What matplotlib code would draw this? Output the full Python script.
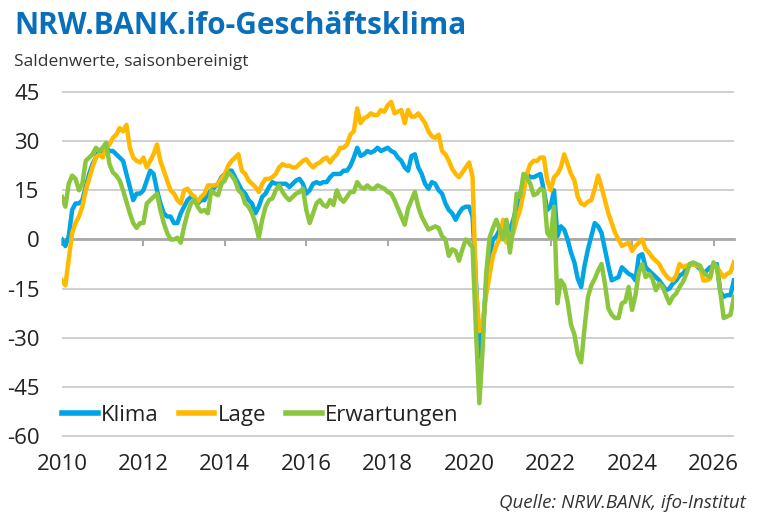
import matplotlib.pyplot as plt
import numpy as np

plt.rcParams['font.family'] = ['Open Sans', 'DejaVu Sans']

# Monatswerte Jan 2010 - Jul 2026
klima = [
    0, -2, 1, 9, 11, 11, 12, 16, 20, 23, 25, 27,                    # 2010
    27, 28, 27, 27, 26, 25, 24, 20, 16, 12, 14, 14,                 # 2011
    15, 18, 21, 20, 15, 11, 8, 7, 7, 5, 5, 8,                       # 2012
    10, 12, 13, 13, 11, 12, 12, 14, 15, 16, 17, 19,                 # 2013
    20, 21, 21, 19, 17, 15, 14, 12, 11, 8, 10, 13,                  # 2014
    14, 16, 17.5, 17, 17, 17, 17, 16, 17, 18, 18.5, 17,             # 2015
    14, 15, 17, 17.5, 17, 17.5, 17.5, 19, 20, 20, 20, 21,           # 2016
    21, 22.5, 25, 28, 25.5, 26, 27, 26.5, 27, 28, 27, 27.5,         # 2017
    28, 27, 26.5, 25, 24, 22, 21, 25.5, 26, 22, 20, 17,             # 2018
    15.5, 17.5, 17, 15, 14, 11, 9, 8, 6, 8, 9.5, 10,                # 2019
    10, 7, -12.5, -36, -28, -13.5, -5.5, 0, 1, 3, 2, 2,             # 2020
    3, 6, 10, 14, 17, 20, 19, 19, 19.5, 20, 15, 9,                  # 2021
    10, 15, 1, 4, 3, 0, -4, -7, -12, -14.5, -8, -3,                 # 2022
    1, 5, 4, 2, -3, -8, -12.5, -12, -11.5, -8.5, -9.5, -10.5,       # 2023
    -11, -12.5, -5, -4.5, -8.5, -9.5, -10.5, -11.5, -12.5, -14, -15.5, -15,  # 2024
    -13.5, -12.5, -11, -10.5, -9, -7.5, -7.5, -8, -9, -10.5, -9.5, -8.5,     # 2025
    -8, -7.5, -16, -17.5, -17, -17, -12.5,                          # 2026
]

lage = [
    -12.5, -14, -6, 2, 5, 7, 10, 15, 18.5, 22, 25, 26,
    25, 28, 29, 31, 32, 34, 33, 35, 28, 25, 24, 23.5,
    25, 22, 24, 26, 29, 24, 21, 18, 15, 14, 12, 11,
    15, 15.5, 14, 13, 11.5, 13, 14, 16.5, 16.5, 16.5, 17, 18.5,
    20, 22.5, 24, 25, 26, 21, 20, 18, 17, 16, 14.5, 17,
    18.5, 18.5, 19, 20, 22, 23, 22.5, 22.5, 22, 22, 23, 24,
    24.5, 23, 22, 23, 23.5, 24.5, 25, 23.5, 25, 26, 28, 28,
    29, 32, 33, 40, 35.5, 37, 37.5, 38.5, 38, 38, 39.5, 39,
    41, 42, 38.5, 39, 39.5, 35.5, 39.5, 37.5, 37.5, 38.5, 37, 35.5,
    33, 31.5, 31, 32, 27, 26, 24, 21.5, 20, 19, 20.5, 22,
    23.5, 19, -15, -28, -25, -17, -11, -5, -2, 0.5, 6, -1,
    1, 2, 6, 9, 14, 20, 23, 24, 24, 25, 25, 18,
    15, 19, 20, 22, 26, 23, 20, 18, 13, 11, 10.5, 11.5,
    12, 15.5, 19.5, 16, 12, 8, 5, 2, 0, -2, -1.5, -1,
    -3.5, -2, -1, 0, -3, -4, -5.5, -6.5, -7.5, -9.5, -11, -12,
    -12.5, -11, -7.5, -8.5, -8, -8, -7.5, -8, -8, -12.5, -12.5, -12,
    -7.5, -8.5, -10, -11.5, -10.5, -10, -7,
]

erwartungen = [
    13, 10, 17, 19.5, 18.5, 15, 17, 24, 25, 26, 28, 27,
    28, 29.5, 23, 20.5, 19.5, 18, 15, 11.5, 8, 5, 3.5, 5,
    5, 11, 12, 13, 14, 9, 5, 2, 0, 0, 0.5, -1,
    4, 8, 11, 12, 10, 8.5, 9, 8, 15, 14, 13.5, 17,
    18, 20.5, 19.5, 18, 15, 14, 11, 10, 8, 5, 0.5, 6,
    10, 12, 12.5, 15, 16.5, 14.5, 13, 12, 13, 14, 14.5, 15.5,
    9, 5, 8, 11, 12, 10.5, 10, 12, 10.5, 15, 12.5, 11.5,
    13, 14.5, 14.5, 17.5, 16, 15.5, 16.5, 15.5, 15.5, 16.5, 16, 15.5,
    14.5, 14, 12, 9.5, 7, 4.5, 9.5, 12, 14.5, 10, 7, 5,
    3, 3.5, 4, 3.5, 1, 0, -5, -3, -3.5, -6.5, -3, 0,
    -1, -2.5, -28, -50, -33, -10.5, 0.5, 3.5, 6, 3, 0, 6,
    -4, 3.5, 14, 13, 20, 19, 17, 13.5, 14, 15.5, 15, 2,
    0.5, 10, -19.5, -12.5, -14, -19, -26, -29, -35, -37.5, -27, -17.5,
    -14, -12, -9.5, -7.5, -13.5, -21, -23, -24, -24, -19.5, -19, -14.5,
    -21.5, -17, -10, -7.5, -11.5, -10.5, -12, -15.5, -13.5, -14.5, -17, -19.5,
    -17.5, -16.5, -14.5, -13, -10.5, -7.5, -7, -7.5, -8, -10, -11, -11.5,
    -7, -8.5, -16, -24, -23.5, -23, -17.5,
]

jahre = list(range(2010, 2027, 2))
y_ticks = [45, 30, 15, 0, -15, -30, -45, -60]

# Zeitachse in Dezimaljahren
t = 2010 + np.arange(len(klima)) / 12

fig = plt.figure(figsize=(7.67, 5.19), dpi=100)
ax = fig.add_axes([0.0808, 0.1568, 0.876, 0.669])

ax.plot(t, klima, color='#00a5e6', lw=3.2, label='Klima', zorder=3, solid_joinstyle='round')
ax.plot(t, lage, color='#ffb900', lw=3.2, label='Lage', zorder=3, solid_joinstyle='round')
ax.plot(t, erwartungen, color='#8cc63f', lw=3.2, label='Erwartungen', zorder=3, solid_joinstyle='round')

ax.set_xlim(2010, 2026.5)
ax.set_ylim(-60.5, 45.5)
ax.set_yticks(y_ticks)
ax.set_yticklabels([str(v) for v in y_ticks])
ax.yaxis.grid(True, color='#cfcfcf', lw=1.4)
ax.set_axisbelow(True)

for s in ['top', 'right', 'left']:
    ax.spines[s].set_visible(False)

# Nulllinie als x-Achse mit Strichen
ax.spines['bottom'].set_position(('data', 0))
ax.spines['bottom'].set_color('#a9a9a9')
ax.spines['bottom'].set_linewidth(2)
ax.spines['bottom'].set_zorder(1)
ax.set_xticks(jahre)
ax.tick_params(axis='x', direction='out', length=5, width=1.5, color='#a9a9a9', labelbottom=False)
ax.tick_params(axis='y', length=0, pad=16, labelsize=16, labelcolor='#222222')

# Jahreszahlen unten
sec = ax.secondary_xaxis('bottom')
sec.set_xticks(jahre)
sec.set_xticklabels([str(j) for j in jahre])
sec.tick_params(length=0, pad=12, labelsize=16, labelcolor='#222222')
sec.spines['bottom'].set_visible(False)

leg = ax.legend(loc='center left', bbox_to_anchor=(0.0, 0.065), ncol=3, frameon=False,
                fontsize=16, handlelength=1.6, handletextpad=0.15, columnspacing=0.9,
                borderaxespad=0, borderpad=0)
for line in leg.get_lines():
    line.set_linewidth(4)
for txt in leg.get_texts():
    txt.set_color('#222222')

fig.text(14 / 767, 1 - 11 / 519, 'NRW.BANK.ifo-Geschäftsklima', color='#0a6fba',
         fontsize=21.5, fontweight='bold', va='top', ha='left')
fig.text(14 / 767, 1 - 66 / 519, 'Saldenwerte, saisonbereinigt', color='#333333',
         fontsize=12.5, va='baseline', ha='left')
fig.text(746 / 767, 1 - 508 / 519, 'Quelle: NRW.BANK, ifo-Institut', color='#333333',
         fontsize=13.5, style='italic', va='baseline', ha='right')

fig.savefig('out.png', dpi=100)
